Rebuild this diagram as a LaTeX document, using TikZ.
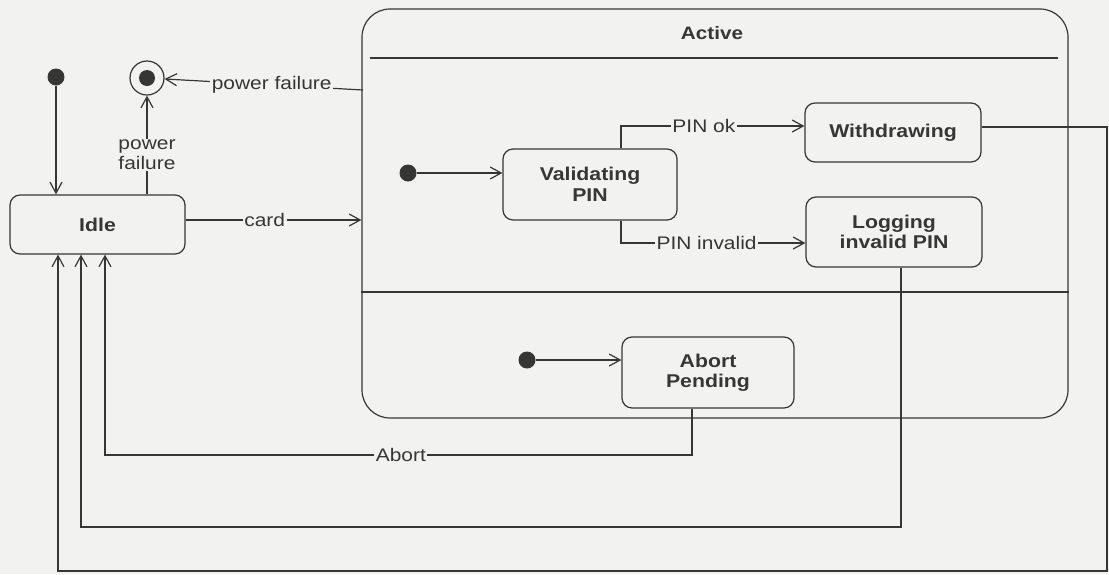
\documentclass[tikz,border=0pt]{standalone}
\usepackage{fontspec}
\setmainfont{Liberation Sans}[FakeStretch=1.15]
\usetikzlibrary{arrows.meta,calc}
\definecolor{bg}{HTML}{F2F2F0}
\definecolor{ink}{HTML}{363636}
\begin{document}
\begin{tikzpicture}[x=1pt,y=-1pt,
  every node/.style={text=ink},
  conn/.style={draw=ink, line width=1.2pt,
    -{Straight Barb[length=11pt,width=12pt,line width=1.2pt]}},
  wire/.style={draw=ink, line width=1.2pt},
  statebox/.style={draw=ink, line width=1.2pt, rounded corners=10pt, fill=bg,
    font=\fontsize{18.5}{20.5}\selectfont\bfseries, align=center, inner sep=0pt},
  lab/.style={fill=bg, inner sep=1.5pt, font=\fontsize{18.2}{19.5}\selectfont, align=center},
  dot/.style={circle, fill=ink, minimum size=17pt, inner sep=0pt}]

% canvas
\fill[bg] (0,0) rectangle (1109,574);
\useasboundingbox (0,0) rectangle (1109,574);

% composite state
\node[draw=ink, line width=1.2pt, rounded corners=28pt,
      minimum width=706pt, minimum height=409pt, inner sep=0pt] (act) at (715,213.5) {};
\node[font=\fontsize{18}{20}\selectfont\bfseries] (acttitle) at (712,33) {Active};
\draw[wire] (370,58) -- (1058,58);
\draw[wire] (act.west |- 0,292) -- (act.east |- 0,292);

% simple states
\node[statebox, minimum width=175pt, minimum height=59pt] (idle) at (97.5,224.5) {Idle};
\node[statebox, minimum width=174pt, minimum height=71pt] (val) at (590,184.5) {Validating\\PIN};
\node[statebox, minimum width=176pt, minimum height=59pt] (wd) at (893,132.5) {Withdrawing};
\node[statebox, minimum width=176pt, minimum height=70pt] (log) at (894,232) {Logging\\invalid PIN};
\node[statebox, minimum width=172pt, minimum height=71pt] (ab) at (708,372.5) {Abort\\Pending};

% pseudo states
\node[dot] (init0) at (56,77) {};
\node[dot] (init1) at (408,173) {};
\node[dot] (init2) at (527,360) {};
\node[circle, draw=ink, line width=1.2pt, minimum size=34pt, inner sep=0pt] (fin) at (147,78) {};
\node[dot, minimum size=16pt] (finc) at (fin) {};

% routing points
\coordinate (pf) at (363,90);
\coordinate (wdR) at (1107,571);
\coordinate (wdL) at (58,571);
\coordinate (lgL) at (81,527);
\coordinate (abL) at (105,455);

% transitions
\draw[conn] (init0) -- (init0 |- idle.north);
\draw[conn] (fin |- idle.north) -- node[lab, pos=0.4]{power\\failure} (fin);
\draw[conn] (pf) -- node[lab, pos=0.46]{power failure} (fin);
\draw[conn] (idle.east |- 0,220) -- node[lab, pos=0.45]{card} (act.west |- 0,220);
\draw[conn] (init1) -- (val.west |- init1);
\draw[conn] (val.north -| 621,0) |- node[lab, pos=0.726]{PIN ok} (wd.west |- 0,126);
\draw[conn] (val.south -| 621,0) |- node[lab, pos=0.732]{PIN invalid} (log.west |- 0,243);
\draw[conn] (init2) -- (ab.west |- init2);
\draw[conn] (ab.south -| 692,0) |- node[lab, pos=0.748]{Abort} (abL) -- (abL |- idle.south);
\draw[conn] (log.south -| 901,0) |- (lgL) -- (lgL |- idle.south);
\draw[conn] (wd.east |- 0,127) -| (wdR) -- (wdL) -- (wdL |- idle.south);

\end{tikzpicture}
\end{document}
